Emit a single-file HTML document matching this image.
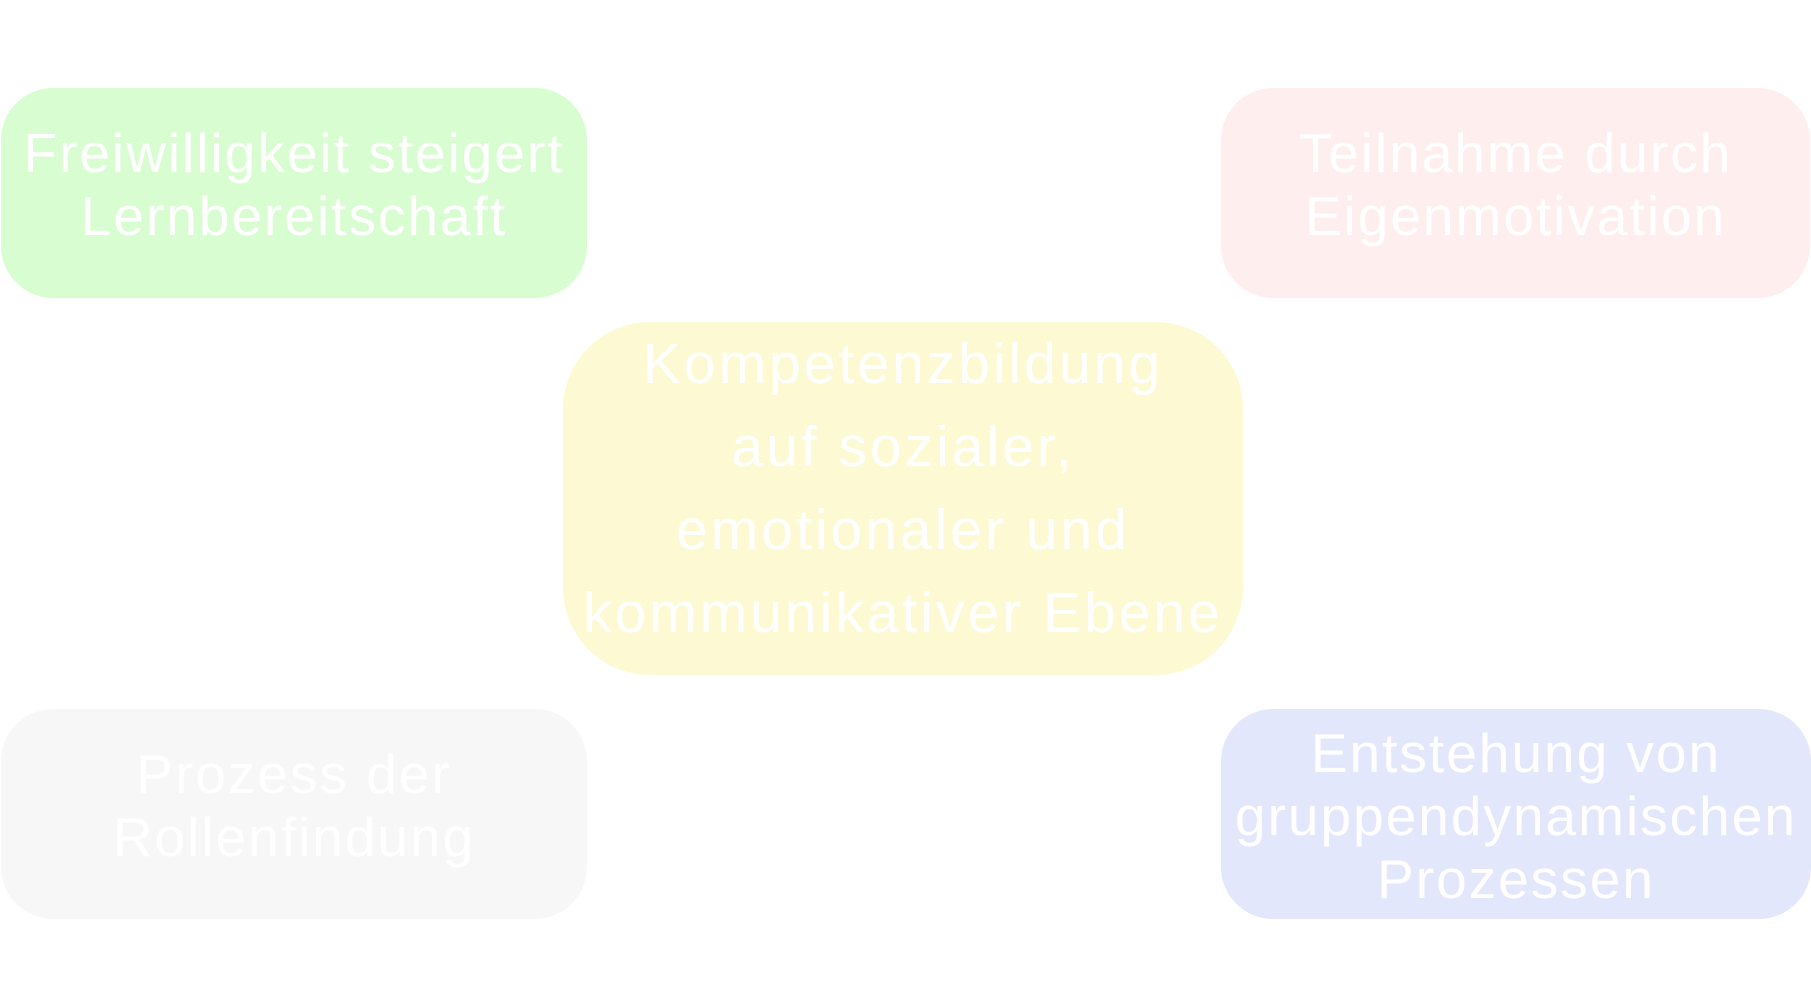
<!DOCTYPE html>
<html><head><meta charset="utf-8"><style>
html,body{margin:0;padding:0;background:#fff;width:1811px;height:997px;overflow:hidden}
.b{position:absolute;display:flex;align-items:center;justify-content:center;text-align:center;color:#fff;font-family:"Liberation Sans",sans-serif;font-size:55px;letter-spacing:2px;line-height:63px;white-space:nowrap}
.b span{position:relative;top:-8px}
</style></head><body>
<div class="b" style="left:1px;top:88px;width:586px;height:210px;border-radius:52px;background:#d8fdd0"><span>Freiwilligkeit steigert<br>Lernbereitschaft</span></div>
<div class="b" style="left:1221px;top:88px;width:589px;height:210px;border-radius:52px;background:#ffeeee"><span>Teilnahme durch<br>Eigenmotivation</span></div>
<div class="b" style="left:563px;top:322px;width:680px;height:353px;border-radius:87px;background:#fdf9d2;font-size:57px;letter-spacing:3px;line-height:83px"><span style="top:-10px">Kompetenzbildung<br>auf sozialer,<br>emotionaler und<br>kommunikativer Ebene</span></div>
<div class="b" style="left:1px;top:709px;width:586px;height:210px;border-radius:52px;background:#f7f7f7"><span>Prozess der<br>Rollenfindung</span></div>
<div class="b" style="left:1221px;top:709px;width:590px;height:210px;border-radius:52px;background:#e3e7fc"><span style="top:2px">Entstehung von<br>gruppendynamischen<br>Prozessen</span></div>
</body></html>
